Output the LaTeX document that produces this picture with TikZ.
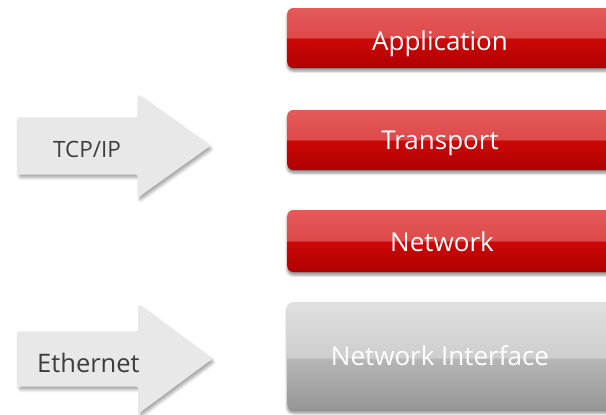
\documentclass[tikz,border=0pt]{standalone}
\usepackage{fontspec}
\setmainfont{Open Sans}
\usetikzlibrary{shapes.arrows,shadows.blur}
\definecolor{rtop}{RGB}{228,90,90}
\definecolor{rmidA}{RGB}{222,74,74}
\definecolor{rmidB}{RGB}{204,8,8}
\definecolor{rbot}{RGB}{176,0,0}
\definecolor{gtop}{RGB}{224,224,224}
\definecolor{gmidA}{RGB}{206,206,206}
\definecolor{gmidB}{RGB}{182,182,182}
\definecolor{gbot}{RGB}{150,150,150}
\definecolor{arrfill}{RGB}{232,232,232}
\definecolor{arrtext}{RGB}{62,62,62}
\pgfdeclareverticalshading{redbarshade}{100bp}{color(0bp)=(rbot); color(25bp)=(rbot); color(49.6bp)=(rmidB); color(50.4bp)=(rmidA); color(75bp)=(rtop); color(100bp)=(rtop)}
\pgfdeclareverticalshading{graybarshade}{100bp}{color(0bp)=(gbot); color(25bp)=(gbot); color(48.6bp)=(gmidB); color(49.4bp)=(gmidA); color(75bp)=(gtop); color(100bp)=(gtop)}
\tikzset{
  layerbar/.style={rectangle, rounded corners=6pt, minimum width=340pt, anchor=west, inner sep=0pt,
    blur shadow={shadow xshift=0pt, shadow yshift=-3pt, shadow blur radius=2.5pt, shadow opacity=45}},
  redbar/.style={layerbar, shade, shading=redbarshade},
  graybar/.style={layerbar, shade, shading=graybarshade},
  bartext/.style={text=white, anchor=base, inner sep=0pt, font=\fontsize{26}{30}\selectfont},
  flowarrow/.style={single arrow, shape border rotate=0, anchor=tail, inner xsep=0pt, fill=arrfill,
    rounded corners=2pt, single arrow head indent=0pt,
    blur shadow={shadow xshift=2pt, shadow yshift=-3pt, shadow blur radius=3pt, shadow opacity=35}},
  arrowtext/.style={text=arrtext, anchor=base west, inner sep=0pt}
}
\begin{document}
\begin{tikzpicture}[x=1pt,y=-1pt]
\useasboundingbox (0,0) rectangle (606,415);
\clip (0,0) rectangle (606,415);
% layers
\node[redbar, minimum height=60pt] (app) at (287,38) {};
\node[redbar, minimum height=60pt] (trans) at (287,140) {};
\node[redbar, minimum height=62pt] (net) at (287,241) {};
\node[graybar, minimum height=108pt] (nif) at (287,356) {};
\node[bartext] (app-t) at (440,50) {Application};
\node[bartext] (trans-t) at (440,149) {Transport};
\node[bartext] (net-t) at (442,251) {Network};
\node[bartext] (nif-t) at (440,365) {Network Interface};
% arrows
\node[flowarrow, inner ysep=28.5pt, minimum height=193pt, single arrow head extend=23pt, single arrow tip angle=71] (tcp) at (17,146) {};
\node[flowarrow, inner ysep=27.5pt, minimum height=195pt, single arrow head extend=27pt, single arrow tip angle=73] (eth) at (17,359) {};
\node[arrowtext, font=\fontsize{22.5}{26}\selectfont] (tcp-t) at (53,157) {TCP/IP};
\node[arrowtext, font=\fontsize{25.5}{30}\selectfont] (eth-t) at (37,372) {Ethernet};
\end{tikzpicture}
\end{document}
